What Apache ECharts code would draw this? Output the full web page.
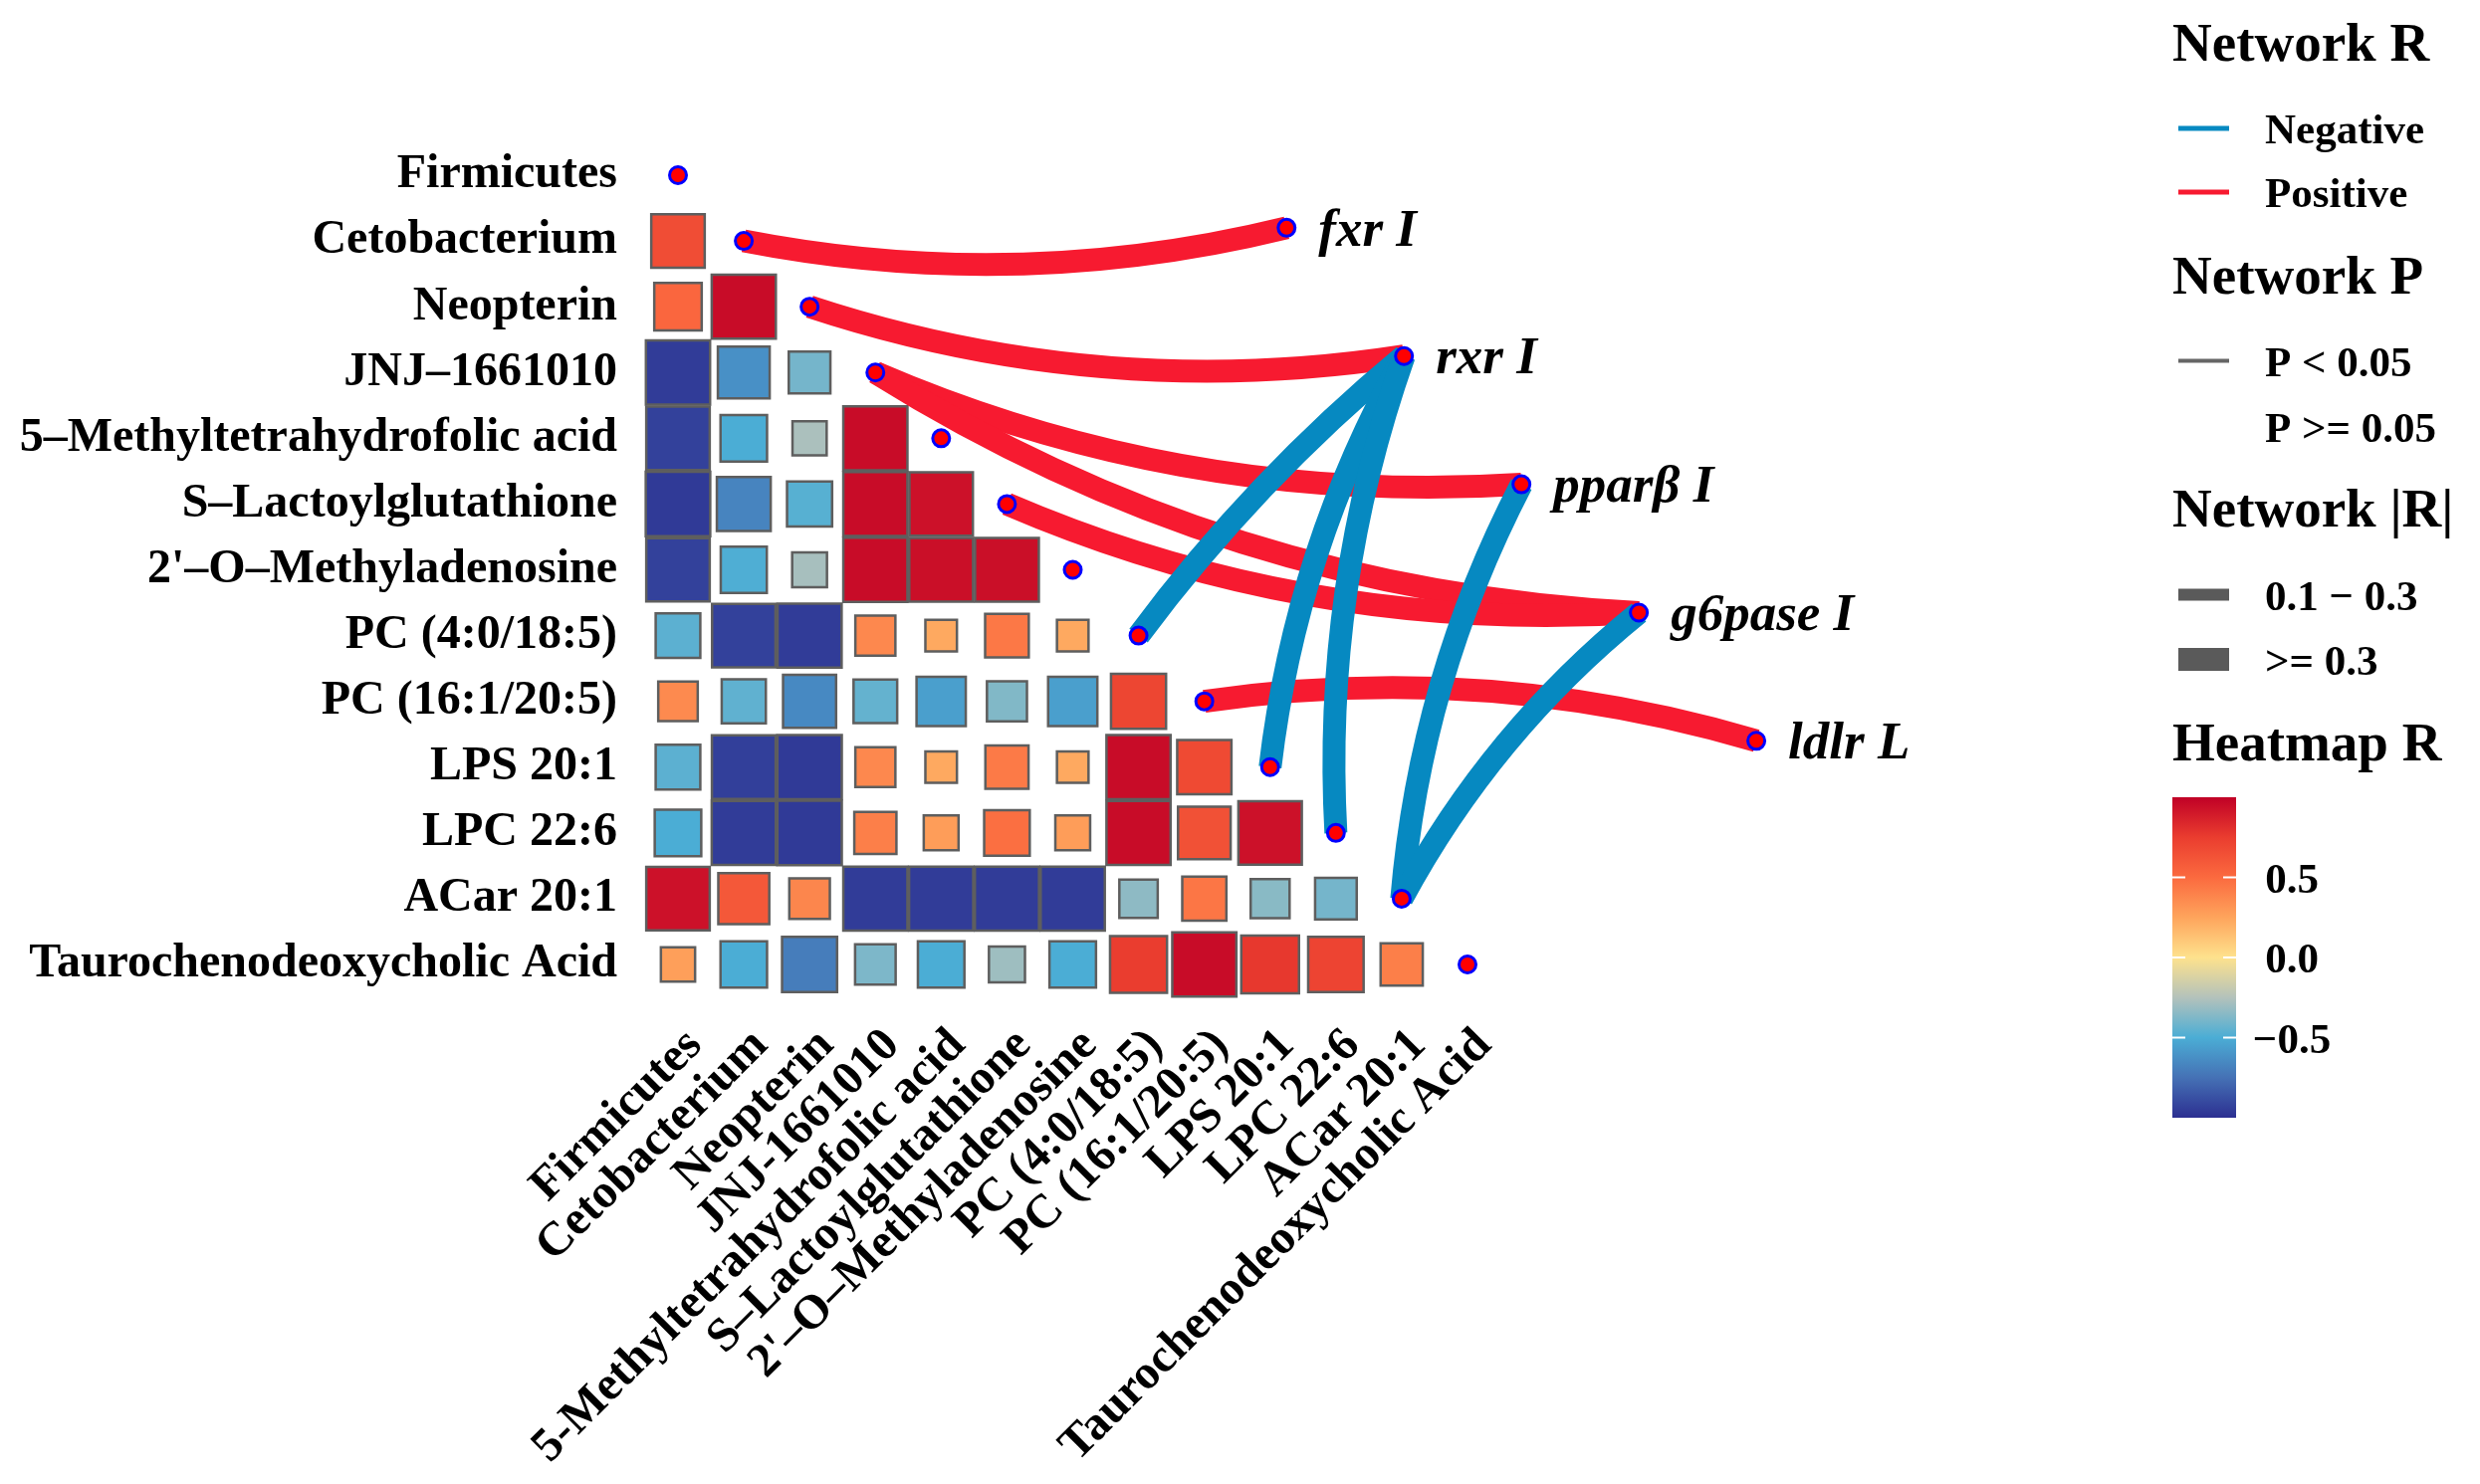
<!DOCTYPE html>
<html>
<head>
<meta charset="utf-8">
<script src="https://cdn.jsdelivr.net/npm/echarts@6/dist/echarts.min.js"></script>
<style>
html,body{margin:0;padding:0;background:#ffffff;}
#chart{width:2491px;height:1491px;}
</style>
</head>
<body>
<div id="chart"></div>
<script>
// ---------------- DATA ----------------
const variables = ['Firmicutes','Cetobacterium','Neopterin','JNJ-1661010','5-Methyltetrahydrofolic acid',
  'S-Lactoylglutathione',"2'-O-Methyladenosine",'PC (4:0/18:5)','PC (16:1/20:5)','LPS 20:1','LPC 22:6',
  'ACar 20:1','Taurochenodeoxycholic Acid'];
const rowLabels = ['Firmicutes','Cetobacterium','Neopterin','JNJ–1661010','5–Methyltetrahydrofolic acid',
  'S–Lactoylglutathione',"2'–O–Methyladenosine",'PC (4:0/18:5)','PC (16:1/20:5)','LPS 20:1','LPC 22:6',
  'ACar 20:1','Taurochenodeoxycholic Acid'];
const colLabels = ['Firmicutes','Cetobacterium','Neopterin','JNJ-1661010','5-Methyltetrahydrofolic acid',
  'S–Lactoylglutathione',"2'–O–Methyladenosine",'PC (4:0/18:5)','PC (16:1/20:5)','LPS 20:1','LPC 22:6',
  'ACar 20:1','Taurochenodeoxycholic Acid'];

// lower-triangle correlation values, row i holds columns 0..i-1
const heatR = [
  [],
  [0.66],
  [0.52, 0.95],
  [-0.95, -0.62, -0.40],
  [-0.93, -0.50, -0.27, 0.95],
  [-0.96, -0.67, -0.47, 0.95, 0.93],
  [-0.93, -0.49, -0.28, 0.95, 0.94, 0.94],
  [-0.46, -0.93, -0.95, 0.37, 0.23, 0.44, 0.23],
  [0.36, -0.45, -0.65, -0.44, -0.56, -0.37, -0.56, 0.70],
  [-0.46, -0.94, -0.96, 0.37, 0.23, 0.43, 0.23, 0.95, 0.68],
  [-0.50, -0.95, -0.96, 0.41, 0.28, 0.48, 0.28, 0.95, 0.64, 0.93],
  [0.93, 0.60, 0.38, -0.95, -0.95, -0.95, -0.95, -0.34, 0.45, -0.35, -0.40],
  [0.27, -0.50, -0.70, -0.38, -0.50, -0.30, -0.50, 0.75, 0.95, 0.77, 0.71, 0.41]
];

const genes = ['fxr I','rxr I','pparβ I','g6pase I','ldlr L'];

const linkFrom = ['Cetobacterium','Neopterin','JNJ-1661010','JNJ-1661010','S-Lactoylglutathione','PC (16:1/20:5)',
  'PC (4:0/18:5)','LPS 20:1','LPC 22:6','ACar 20:1','ACar 20:1'];
const linkTo = ['fxr I','rxr I','pparβ I','g6pase I','g6pase I','ldlr L',
  'rxr I','rxr I','rxr I','pparβ I','g6pase I'];
const linkSign = ['Positive','Positive','Positive','Positive','Positive','Positive',
  'Negative','Negative','Negative','Negative','Negative'];
const linkP = ['P < 0.05','P < 0.05','P < 0.05','P < 0.05','P < 0.05','P < 0.05',
  'P < 0.05','P < 0.05','P < 0.05','P < 0.05','P < 0.05'];
const linkAbsR = ['>= 0.3','>= 0.3','>= 0.3','>= 0.3','>= 0.3','>= 0.3',
  '>= 0.3','>= 0.3','>= 0.3','>= 0.3','>= 0.3'];

const colorbarTicks = [0.5, 0, -0.5];
const colorbarTickLabels = ['0.5', '0.0', '−0.5'];

// ---------------- LAYOUT / STYLE ----------------
const FONT = '"Liberation Serif","Times New Roman",serif';
const layout = {
  gridLeft: 681, gridTop: 176, gridSize: 793,
  geneOrigin: [9.25, 0.80], geneStep: [1.785, 1.95],
  legendX: 2182, legendKeyX0: 2188, legendKeyX1: 2239, legendTextX: 2275, legendDy: 4
};
const linkCurve = [-0.11, -0.12, -0.12, -0.13, -0.12, 0.11, 0.06, 0.10, 0.10, 0.10, 0.10];
const signColor = { Positive: '#F71A30', Negative: '#0689C1' };
const absRWidth = { '0.1 - 0.3': 12, '>= 0.3': 23 };
const heatStops = ['#2c2f91','#4571b5','#4badd5','#b3c2bb','#fee28d','#fea45c','#fb6a3f','#ea3d2f','#c00026'];

// ---------------- BUILD ----------------
const heatData = [];
heatR.forEach((row, i) => row.forEach((v, j) => heatData.push([j, i, v])));

const diagData = variables.map((v, i) => ({ name: v, value: [i, i] }));
const genePos = genes.map((g, k) => [layout.geneOrigin[0] + layout.geneStep[0] * k,
                                     layout.geneOrigin[1] + layout.geneStep[1] * k]);
const geneData = genes.map((g, k) => ({ name: g, value: genePos[k] }));

const linkData = linkFrom.map((f, k) => {
  const i = variables.indexOf(f);
  const g = genes.indexOf(linkTo[k]);
  return {
    coords: [[i, i], genePos[g]],
    lineStyle: { color: signColor[linkSign[k]], width: absRWidth[linkAbsR[k]], curveness: linkCurve[k],
                 type: linkP[k] === 'P < 0.05' ? 'solid' : 'dashed' }
  };
});
const posLinks = linkData.filter((d, k) => linkSign[k] === 'Positive');
const negLinks = linkData.filter((d, k) => linkSign[k] === 'Negative');

const chart = echarts.init(document.getElementById('chart'), null, { renderer: 'canvas' });

const axisLabelBase = { fontFamily: FONT, fontWeight: 'bold', fontSize: 48, color: '#000' };

// legend graphics
const LX = layout.legendX;
const DY = layout.legendDy;
const titleFont = 'bold 55px ' + FONT;
const itemFont = 'bold 43px ' + FONT;
function txt(text, x, y, font, align) {
  return { type: 'text', x: x, y: y + DY, z: 100,
    style: { text: text, font: font, fill: '#000', align: align || 'left', verticalAlign: 'middle',
             textAlign: align || 'left', textVerticalAlign: 'middle' } };
}
function hline(x0, x1, y, color, w) {
  return { type: 'line', z: 100, shape: { x1: x0, y1: y, x2: x1, y2: y }, style: { stroke: color, lineWidth: w } };
}
const cbTop = 801, cbH = 322, cbW = 64;
const gradStops = heatStops.slice().reverse().map((c, k, a) => ({ offset: k / (a.length - 1), color: c }));
const graphics = [
  txt('Network R', LX, 43, titleFont),
  hline(layout.legendKeyX0, layout.legendKeyX1, 129, signColor.Negative, 5),
  txt('Negative', layout.legendTextX, 129, itemFont),
  hline(layout.legendKeyX0, layout.legendKeyX1, 193, signColor.Positive, 5),
  txt('Positive', layout.legendTextX, 193, itemFont),
  txt('Network P', LX, 277, titleFont),
  hline(layout.legendKeyX0, layout.legendKeyX1, 362.5, '#666666', 4),
  txt('P < 0.05', layout.legendTextX, 362.5, itemFont),
  txt('P >= 0.05', layout.legendTextX, 428.6, itemFont),
  txt('Network |R|', LX, 511, titleFont),
  { type: 'rect', z: 100, shape: { x: layout.legendKeyX0, y: 597.5 - 6, width: layout.legendKeyX1 - layout.legendKeyX0, height: 12 },
    style: { fill: '#5a5a5a' } },
  txt('0.1 − 0.3', layout.legendTextX, 597.5, itemFont),
  { type: 'rect', z: 100, shape: { x: layout.legendKeyX0, y: 662.5 - 11.5, width: layout.legendKeyX1 - layout.legendKeyX0, height: 23 },
    style: { fill: '#5a5a5a' } },
  txt('>= 0.3', layout.legendTextX, 662.5, itemFont),
  txt('Heatmap R', LX, 746, titleFont),
  { type: 'rect', z: 100, shape: { x: LX, y: cbTop, width: cbW, height: cbH },
    style: { fill: new echarts.graphic.LinearGradient(0, 0, 0, 1, gradStops) } }
];
colorbarTicks.forEach((v, k) => {
  const y = cbTop + (1 - v) / 2 * cbH;
  graphics.push(hline(LX, LX + 13, y, '#ffffff', 2));
  graphics.push(hline(LX + cbW - 13, LX + cbW, y, '#ffffff', 2));
  graphics.push(txt(colorbarTickLabels[k], 2302, y, itemFont, 'center'));
});

const hiddenAxis = { show: false, axisLine: { show: false }, axisTick: { show: false }, splitLine: { show: false }, axisLabel: { show: false } };

const option = {
  backgroundColor: '#ffffff',
  animation: false,
  grid: { left: layout.gridLeft, top: layout.gridTop, width: layout.gridSize, height: layout.gridSize, containLabel: false },
  xAxis: [
    Object.assign({ type: 'value', min: 0, max: 12 }, hiddenAxis),
    {
      type: 'category', data: colLabels, boundaryGap: false, position: 'bottom',
      axisLine: { show: false }, axisTick: { show: false }, splitLine: { show: false },
      axisLabel: Object.assign({}, axisLabelBase, { rotate: 45, margin: 57, interval: 0, hideOverlap: false,
        lineHeight: 48, align: 'right', verticalAlign: 'top' })
    }
  ],
  yAxis: [
    Object.assign({ type: 'value', min: 0, max: 12, inverse: true }, hiddenAxis),
    {
      type: 'category', data: rowLabels, boundaryGap: false, inverse: true, position: 'left',
      axisLine: { show: false }, axisTick: { show: false }, splitLine: { show: false },
      axisLabel: Object.assign({}, axisLabelBase, { margin: 61, interval: 0, hideOverlap: false,
        padding: [4, 0, 0, 0] })
    }
  ],
  visualMap: {
    type: 'continuous', show: false, min: -1, max: 1, dimension: 2, seriesIndex: 0,
    inRange: { color: heatStops }
  },
  graphic: graphics,
  series: [
    {
      type: 'custom', name: 'heatmap', coordinateSystem: 'cartesian2d', xAxisIndex: 0, yAxisIndex: 0,
      data: heatData, z: 2, clip: false,
      renderItem: function (params, api) {
        const p = api.coord([api.value(0), api.value(1)]);
        const s = api.size([1, 1]);
        const side = Math.abs(s[0]) * Math.sqrt(Math.abs(api.value(2)));
        return {
          type: 'rect',
          shape: { x: p[0] - side / 2, y: p[1] - side / 2, width: side, height: side },
          style: { fill: api.visual('color'), stroke: '#5e5e5e', lineWidth: 2.5 }
        };
      }
    },
    {
      type: 'lines', name: 'positive links', coordinateSystem: 'cartesian2d', xAxisIndex: 0, yAxisIndex: 0,
      clip: false, z: 3, polyline: false, silent: true, data: posLinks, lineStyle: { opacity: 1, cap: 'butt' }
    },
    {
      type: 'lines', name: 'negative links', coordinateSystem: 'cartesian2d', xAxisIndex: 0, yAxisIndex: 0,
      clip: false, z: 4, polyline: false, silent: true, data: negLinks, lineStyle: { opacity: 1, cap: 'butt' }
    },
    {
      type: 'scatter', name: 'nodes', xAxisIndex: 0, yAxisIndex: 0, data: diagData, clip: false, z: 5,
      symbol: 'circle', symbolSize: 17,
      itemStyle: { color: '#ff0000', borderColor: '#0000ff', borderWidth: 3, opacity: 1 }
    },
    {
      type: 'scatter', name: 'genes', xAxisIndex: 0, yAxisIndex: 0, data: geneData, clip: false, z: 6,
      symbol: 'circle', symbolSize: 17,
      itemStyle: { color: '#ff0000', borderColor: '#0000ff', borderWidth: 3, opacity: 1 },
      label: { show: true, position: 'right', distance: 22, offset: [0, 4], formatter: '{b}',
        fontFamily: FONT, fontStyle: 'italic', fontWeight: 'bold', fontSize: 53, color: '#000' }
    }
  ]
};
chart.setOption(option);
</script>
</body>
</html>
